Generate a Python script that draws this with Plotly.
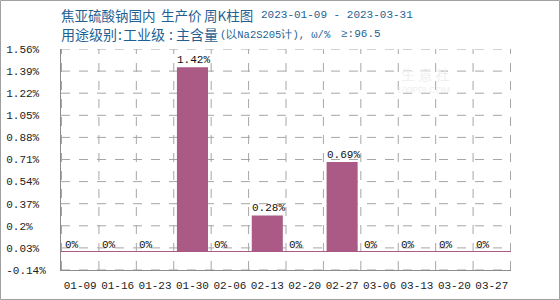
import plotly.graph_objects as go

# ---- data ----
categories = ["01-09", "01-16", "01-23", "01-30", "02-06", "02-13",
              "02-20", "02-27", "03-06", "03-13", "03-20", "03-27"]
values = [0, 0, 0, 1.42, 0, 0.28, 0, 0.69, 0, 0, 0, 0]
bar_labels = ["0%", "0%", "0%", "1.42%", "0%", "0.28%", "0%", "0.69%", "0%", "0%", "0%", "0%"]
y_tickvals = [-0.14, 0.03, 0.2, 0.37, 0.54, 0.71, 0.88, 1.05, 1.22, 1.39, 1.56]
y_ticktext = ["-0.14%", "0.03%", "0.2%", "0.37%", "0.54%", "0.71%", "0.88%",
              "1.05%", "1.22%", "1.39%", "1.56%"]
title1_parts = ["焦亚硫酸钠国内", "生产价", "周K柱图", "2023-01-09 - 2023-03-31"]
title2_parts = ["用途级别", ":", "工业级", ":", "主含量", "(以Na2S205计), ω/%", "≥:96.5"]

W, H = 560, 300
L, R, T, B = 61, 49, 49, 30
PW, PH = W - L - R, H - T - B

BAR = "#aa5a84"
GRID = "#a6a6a6"
AXIS = "#8c8c8c"
TITLE = "#1f5f92"
MONO = "Liberation Mono, DejaVu Sans Mono, monospace"
CJK = "Noto Sans CJK SC, sans-serif"

maxlen = max(len(t) for t in y_ticktext)
padded = [t + "\u00a0" * (maxlen - len(t)) for t in y_ticktext]


def py(p):
    return (H - B - p) / PH


def px(p):
    return (p - L) / PW


fig = go.Figure()
fig.add_trace(go.Bar(x=categories, y=values, marker=dict(color=BAR, line=dict(width=0)),
                     hoverinfo="skip"))

# dashed grid: horizontal at each y tick, vertical at category boundaries
for v in y_tickvals:
    fig.add_shape(type="line", xref="paper", yref="y", x0=0, x1=1, y0=v, y1=v,
                  line=dict(color=GRID, width=1, dash="dash"), layer="below")
for i in range(len(categories) + 1):
    fig.add_shape(type="line", xref="x", yref="paper", x0=i - 0.5, x1=i - 0.5, y0=0, y1=1,
                  line=dict(color=GRID, width=1, dash="dash"), layer="below")

# bar value labels, left aligned on bar left edge
bar_frac = 0.83
half_bar_px = PW / len(categories) * bar_frac / 2
for c, v, t in zip(categories, values, bar_labels):
    fig.add_annotation(x=c, y=v, text=t, showarrow=False, xanchor="left", yanchor="bottom",
                       xshift=-half_bar_px - 2, yshift=-1,
                       font=dict(family=MONO, size=11, color="#111"))

# titles (segment x positions in px)
t1_x = [59, 159, 202, 259]
t1_font = [(CJK, 13.5), (CJK, 13.5), (CJK, 13.5), (MONO, 11)]
for s, x, (fam, sz) in zip(title1_parts, t1_x, t1_font):
    fig.add_annotation(xref="paper", yref="paper", x=px(x), y=py(15), xanchor="left",
                       yanchor="middle", showarrow=False, text=s,
                       font=dict(family=fam, size=sz, color=TITLE))
t2_x = [59, 116, 121, 167, 174, 218, 339]
t2_font = [(CJK, 14), (CJK, 14), (CJK, 14), (CJK, 14), (CJK, 14), (MONO, 10.5), (MONO, 11)]
for s, x, (fam, sz) in zip(title2_parts, t2_x, t2_font):
    fig.add_annotation(xref="paper", yref="paper", x=px(x), y=py(34), xanchor="left",
                       yanchor="middle", showarrow=False, text=s,
                       font=dict(family=fam, size=sz, color=TITLE))

# faint watermark
fig.add_annotation(xref="paper", yref="paper", x=px(451), y=py(62), showarrow=False,
                   text="生 意 社", font=dict(family=CJK, size=14, color="#eef0f0"))
fig.add_annotation(xref="paper", yref="paper", x=px(452), y=py(83), showarrow=False,
                   text="100PPI.COM", font=dict(family="Liberation Sans", size=9, color="#eef0f0"))

# outer border
fig.add_shape(type="rect", xref="paper", yref="paper",
              x0=px(0.5), x1=px(W - 0.5), y0=py(H - 0.5), y1=py(0.5),
              line=dict(color="#a0a0a0", width=1), fillcolor="rgba(0,0,0,0)", layer="above")

fig.update_layout(
    width=W, height=H,
    margin=dict(l=L, r=R, t=T, b=B, autoexpand=False),
    paper_bgcolor="white", plot_bgcolor="rgba(0,0,0,0)",
    showlegend=False, bargap=1 - bar_frac,
)
fig.update_xaxes(type="category", tickson="boundaries", showgrid=False,
                 showline=True, linecolor=AXIS, linewidth=1,
                 ticks="", ticklabelstandoff=5, tickangle=0,
                 automargin=False, zeroline=False,
                 tickfont=dict(family=MONO, size=11, color="#222"))
fig.update_yaxes(range=[-0.14, 1.56], tickmode="array", tickvals=y_tickvals, ticktext=padded,
                 showgrid=False, showline=True, linecolor=AXIS, linewidth=1,
                 zeroline=True, zerolinecolor=BAR, zerolinewidth=1,
                 ticks="", ticklabelstandoff=12, automargin=False,
                 tickfont=dict(family=MONO, size=11, color="#222"))

fig.write_html("out.html")
